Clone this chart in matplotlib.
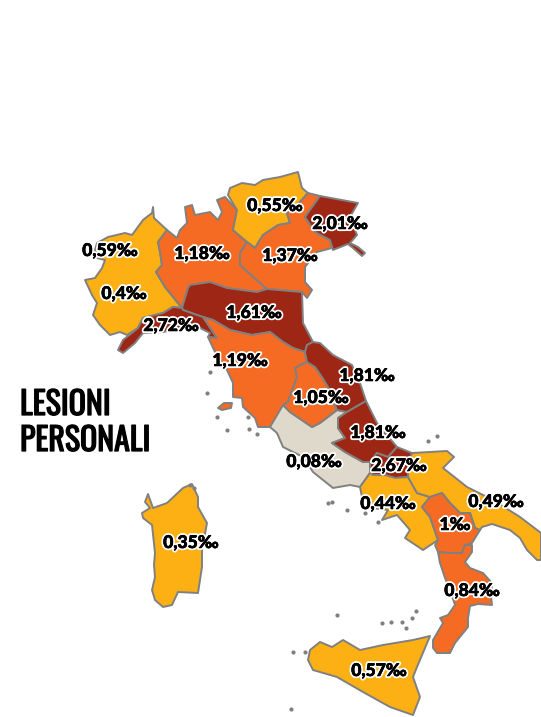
import matplotlib
matplotlib.use('Agg')
import matplotlib.pyplot as plt
import matplotlib.patheffects as pe

DARK = '#9e2614'
ORANGE = '#f56b23'
YELLOW = '#fdb014'
BEIGE = '#ded9ca'
EDGE = '#808080'

# region outlines in pixels
piemonte = [(153,207),(154,218),(167,230),(158,242),(160,252),(162,265),(156,272),(165,287),(182,308),
            (173,307),(163,313),(143,318),(138,328),(127,335),(120,332),(110,335),(100,325),(93,315),(97,303),
            (92,295),(85,280),(95,278),(102,268),(105,260),(97,258),(95,250),(97,243),(108,237),(125,233),(132,235),
            (143,220),(152,213)]
lombardia = [(167,230),(177,238),(180,230),(187,223),(185,207),(192,205),(195,215),(210,212),(218,220),(222,212),
             (217,200),(225,197),(237,210),(233,230),(247,242),(240,253),(240,265),(267,289),(257,292),(227,288),
             (210,282),(190,285),(188,288),(182,308),(165,287),(156,272),(162,265),(160,252),(158,242)]
trentino = [(230,188),(242,183),(255,185),(263,180),(280,177),(298,172),(302,188),(308,193),(300,202),(287,213),
            (290,223),(278,225),(263,235),(255,248),(247,242),(233,230),(237,210),(228,195)]
veneto = [(308,193),(320,196),(305,217),(315,232),(330,240),(332,248),(317,252),(305,267),(305,282),(312,290),
          (307,298),(302,292),(267,289),(240,265),(240,253),(247,242),(255,248),(263,235),(278,225),(290,223),
          (287,213),(300,202)]
friuli = [(320,196),(358,203),(350,217),(357,235),(350,243),(358,247),(365,253),(362,256),(353,248),(348,244),(333,250),
          (330,240),(315,232),(305,217)]
emilia = [(182,308),(188,288),(190,285),(210,282),(227,288),(257,292),(267,289),(302,292),(303,323),(313,342),
          (307,345),(305,352),(293,348),(283,342),(270,332),(252,335),(230,330),(213,320),(203,317),(197,315),(183,310)]
liguria = [(182,308),(173,307),(163,313),(143,318),(138,328),(123,340),(118,350),(123,353),(135,343),(143,333),
           (163,332),(183,328),(200,328),(210,333),(208,337),(217,338),(203,317),(197,315),(183,310)]
toscana = [(203,317),(213,320),(230,330),(252,335),(270,332),(283,342),(293,348),(305,352),(307,362),(295,368),
           (297,377),(288,402),(283,405),(283,412),(275,422),(270,427),(258,427),(255,418),(243,407),(242,398),
           (233,397),(233,383),(227,370),(220,360),(214,350),(208,337),(217,338)]
lazio = [(270,427),(283,405),(290,412),(312,427),(320,423),(337,410),(347,412),(338,418),(338,428),(345,438),
         (332,443),(345,452),(363,462),(370,462),(370,473),(360,487),(350,485),(333,488),(323,480),(313,472),
         (303,457),(283,447),(277,433)]
umbria = [(307,362),(295,368),(297,377),(288,402),(283,405),(290,412),(312,427),(320,423),(337,410),(328,387),
          (322,377),(315,367)]
marche = [(305,352),(307,345),(313,342),(320,343),(333,355),(352,365),(360,383),(366,401),(347,412),(337,410),
          (328,387),(322,377),(315,367),(307,362)]
abruzzo = [(366,401),(377,423),(397,447),(388,457),(377,453),(370,462),(363,462),(345,452),(332,443),(345,438),
           (338,428),(338,418),(347,412)]
molise = [(397,447),(412,453),(408,465),(408,477),(395,478),(385,475),(373,475),(370,473),(370,462),(377,453),(388,457)]
campania = [(370,473),(373,475),(385,475),(395,478),(408,477),(417,493),(430,497),(422,507),(430,517),(438,540),(423,550),
            (405,538),(410,530),(397,515),(382,520),(388,510),(372,508),(362,497),(360,487)]
puglia = [(412,453),(447,451),(454,457),(443,468),(467,487),(493,500),(520,517),(541,533),(541,560),(537,560),
          (527,550),(520,538),(510,530),(492,524),(482,527),(480,530),(475,528),(470,513),(460,513),(450,503),
          (442,493),(430,497),(417,493),(408,477),(408,465)]
basilicata = [(430,497),(442,493),(450,503),(460,513),(470,513),(475,528),(480,530),(472,543),(465,545),(462,553),
              (448,553),(438,552),(435,545),(438,540),(430,517),(422,507)]
calabria = [(438,552),(448,553),(462,553),(465,545),(472,545),(472,552),(465,562),(470,568),(483,573),(492,583),
            (491,596),(492,605),(478,604),(470,606),(468,618),(468,627),(455,643),(450,653),(437,653),(433,648),(433,640),(443,623),
            (440,618),(448,615),(455,605),(450,590),(445,578),(440,563)]
sicilia = [(310,650),(320,642),(332,647),(343,640),(360,650),(383,645),(413,640),(430,636),(417,667),(413,677),
           (420,697),(413,715),(390,707),(363,692),(337,677),(313,670),(308,660)]
sardegna = [(148,494),(145,502),(150,508),(142,513),(143,518),(152,525),(155,553),(154,565),(155,577),(152,590),
            (155,600),(163,607),(172,605),(178,592),(198,593),(202,567),(202,550),(207,523),(198,507),(198,497),
            (192,484),(183,488),(167,503),(153,508)]
elba = [(218,408),(224,403),(232,403),(231,408),(222,410)]

regions = [piemonte, lombardia, trentino, veneto, friuli, emilia, liguria, toscana, lazio, umbria, marche,
           abruzzo, molise, campania, puglia, basilicata, calabria, sicilia, sardegna, elba]
region_colors = [YELLOW, ORANGE, YELLOW, ORANGE, DARK, DARK, DARK, ORANGE, BEIGE, ORANGE, DARK,
                 DARK, DARK, YELLOW, YELLOW, ORANGE, ORANGE, YELLOW, YELLOW, ORANGE]

# tiny islands
islet_x = [210,207,217,227,248,249,257,328,332,347,428,437,337,382,391,402,406,412,416,293,305,378,365,291,190,194]
islet_y = [372,393,417,430,417,429,434,503,502,510,441,436,615,623,622,622,628,618,611,652,652,522,513,709,485,488]

labels = ['0,59‰','0,4‰','1,18‰','1,37‰','0,55‰','2,01‰','2,72‰','1,61‰','1,19‰','1,81‰',
          '1,05‰','1,81‰','2,67‰','0,08‰','0,44‰','0,49‰','1‰','0,84‰','0,35‰','0,57‰']
label_x = [110,124,202,290,275,340,171,254,240,367,321,378,399,314,388,496,455,472,191,379]
label_y = [251,294,254,256,206,224,326,313,361,376,398,433,466,462,504,502,525,591,543,671]

fig = plt.figure(figsize=(5.41, 7.17), dpi=100)
ax = fig.add_axes([0, 0, 1, 1])
ax.set_xlim(0, 541)
ax.set_ylim(717, 0)
ax.axis('off')

for shape, col in zip(regions, region_colors):
    xs = [p[0] for p in shape]
    ys = [p[1] for p in shape]
    ax.fill(xs, ys, facecolor=col, edgecolor=EDGE, linewidth=1.4, joinstyle='round')

ax.scatter(islet_x, islet_y, s=9, color=EDGE, linewidths=0)

# white halo first, then a hair of black so the figures read as heavy as the original
for lab, x, y in zip(labels, label_x, label_y):
    ax.text(x, y, lab, ha='center', va='center', fontsize=12.6, fontweight=900, family=['Lato', 'DejaVu Sans'],
            color='black', path_effects=[pe.withStroke(linewidth=3.0, foreground='white'),
                                         pe.withStroke(linewidth=0.4, foreground='black')])

title_font = ['Oswald', 'Liberation Sans Narrow', 'DejaVu Sans']
title_fx = [pe.withStroke(linewidth=0.9, foreground='black')]
ax.text(20, 405, 'LESIONI', ha='left', va='center', fontsize=23, fontweight=700, family=title_font, color='black',
        path_effects=title_fx)
ax.text(20, 441, 'PERSONALI', ha='left', va='center', fontsize=23, fontweight=700, family=title_font, color='black',
        path_effects=title_fx)

fig.savefig('out.png', dpi=100)
